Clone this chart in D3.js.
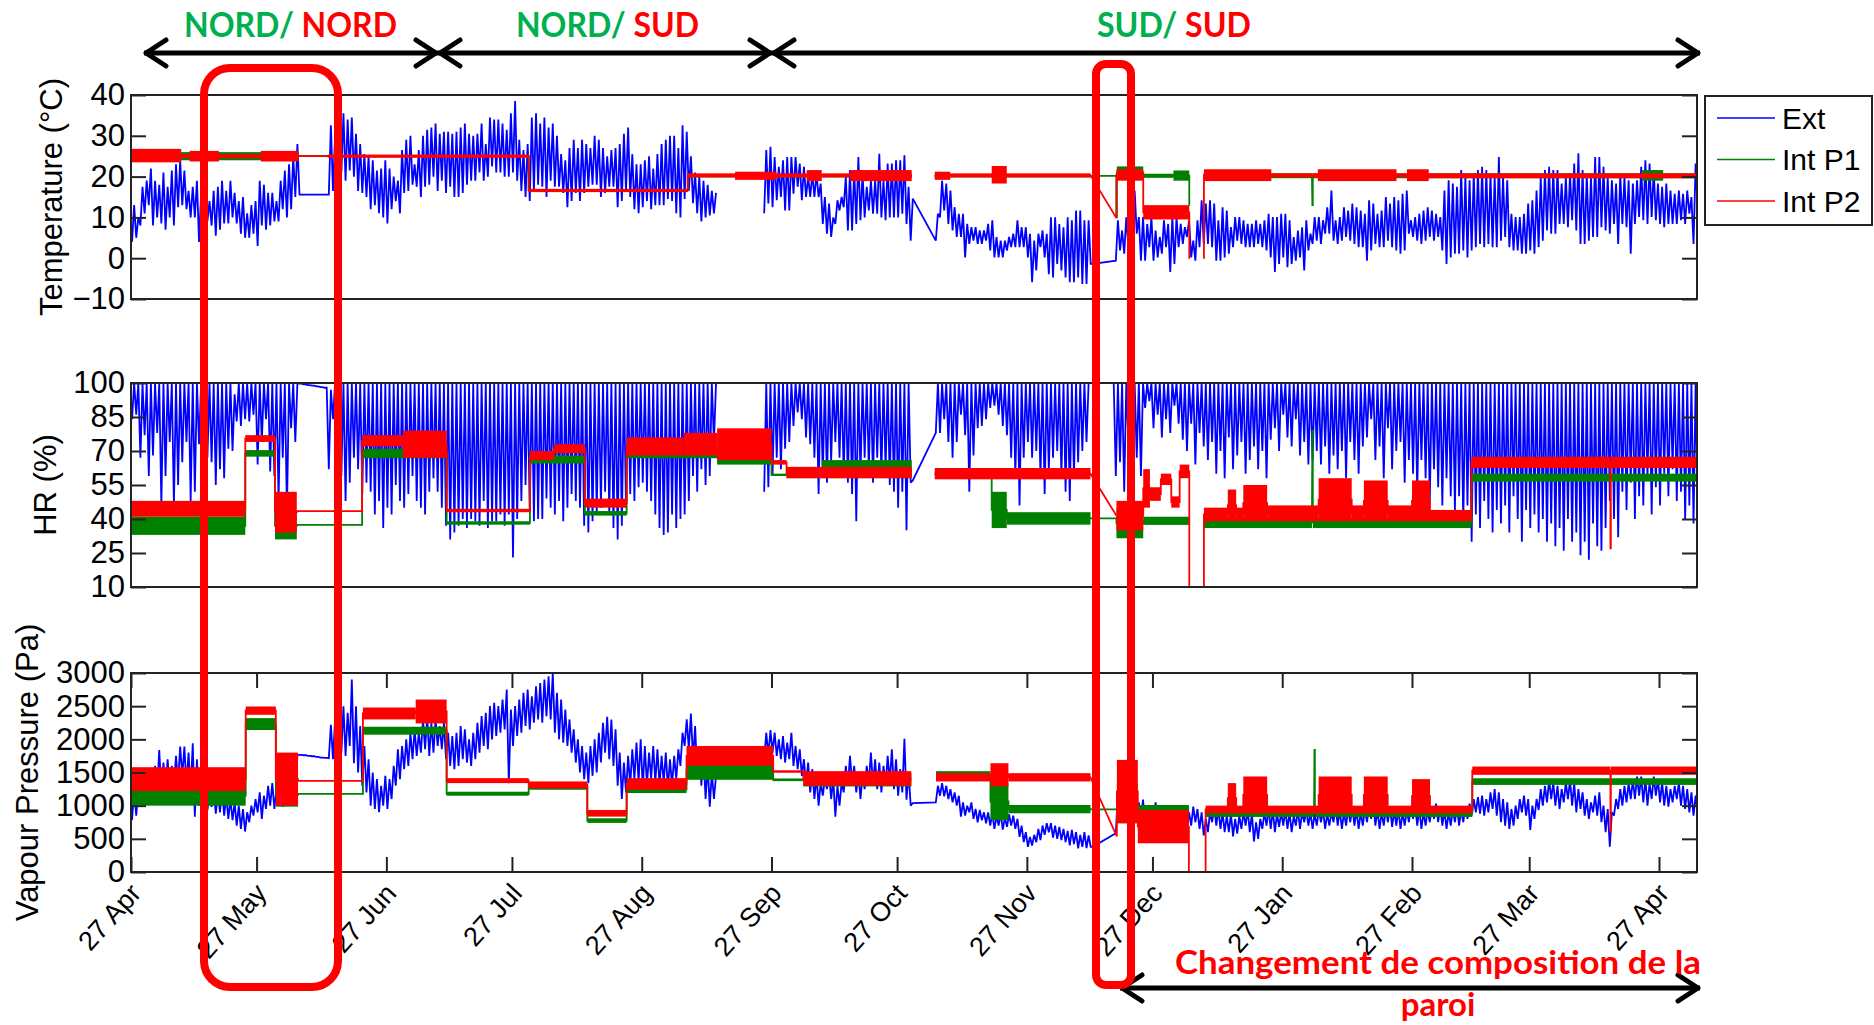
<!DOCTYPE html>
<html><head><meta charset="utf-8">
<script src="https://cdn.jsdelivr.net/npm/d3@7"></script>
<style>body{margin:0;background:#fff}svg{display:block}</style>
</head><body>
<svg id="c" width="1874" height="1025"></svg>
<script>
// N = no data, line broken ; _ = no sample, line drawn straight across
const N = NaN, _ = null;

// Day index 0 = 27 Apr 2013 (hourly data shown as daily low / high)
const tempExtLo = [
4,5,8,11,13,8,10,8.5,7,10, 8,12.5,13,12,10,10,4,8.5,9,8, 5.5,7,8.5,8.5,10,8.5,6,5,5,6, 3,8,7,8,9,9,12,10,12,15,
15.6,15.6,15.6,15.6,15.6,15.6,15.6,15.6,16.5,17.5, 21,19,21.5,20,16.5,16,15,12,13,11, 10,8.5,12,14,11,16,16.5,18,17.5,15,
17.5,18,20,16.5,19,16,17.5,15,15,16, 18,19,19,21,19,20,22.5,21,21,20, 20,21,19,16.5,15,14,16.5,18,17.5,15,
19,17.5,17.5,16,12.5,14,16,14,16,17.5, 18,18,15,16,17.5,17.5,12.5,14,16.5,15, 12,11,12.5,14,12,13,13,13,14.5,14,
11,10,14.5,16.5,13.5,11,9,10,10.5,11, N,N,N,N,N,N,N,N,N,N, N,11,13.4,12.5,14.2,15,11.7,11.7,15.8,17.5,
14.2,15,15,15,15,8.4,6,5.2,8.4,11.7, 12.5,6.8,6.8,8.4,9.3,10,11.7,10.9,10.9,10, 9.3,10,10,10,10.9,8.4,4.3,_,_,_,
_,_,4.3,10,11.7,8.4,6.8,5.2,5.2,0.2, 3.5,4.3,3.5,3.5,4.3,1.9,0.2,0.2,0.2,1.9, 2.7,2.7,2.7,2.7,0.2,-5.9,-3,2.7,0.2,-3.9,
-4.7,-1.4,-3,-4.7,-5.9,-5.9,-4.7,-6.3,-6.3,-1.4, _,_,_,_,_,-0.6,1.9,1.1,2.7,3.5, 6,-0.6,-0.6,2.7,-0.6,0.2,1.1,2.7,-3.4,-1.4,
2.7,3.5,5.2,0.2,-0.6,2.7,3.5,3.5,2.7,-0.6, -0.6,0.2,1.1,2.7,4.3,3.5,2.7,2.7,2.7,3.5, 2.7,1.9,0.2,-3.4,-1.4,0.2,-2.2,-1.4,-0.6,0.2,
-3,1.9,3.5,4.3,3.5,6,6,4.3,3.5,4.3, 5.2,4.3,3.5,2.7,2.7,-0.6,1.9,3.5,2.7,2.7, 4.3,2.7,1.9,1.1,1.9,6,5.2,4.3,3.5,4.3,
5.2,4.3,5.2,1.9,-1.4,0.2,1.1,1.1,1.9,0.2, 1.9,2.7,3.5,2.7,3.5,2.7,2.7,4.3,5.2,2.7, 1.9,1.9,1.1,1.1,1.9,1.1,2.7,4.3,6.8,6,
6,8.4,8.4,7.6,9.3,6.8,3.5,3.5,4.3,5.2, 5.2,7.6,6.8,6,8.4,3.5,8.4,7.6,1.1,8.4, 10.1,9.3,8.4,10.1,9.3,8.4,7.6,8.4,8.4,8.4,
9.3,8.4,10.9,3.5,12];
const tempExtHi = [
13,10,17.5,19,22,19,18,21,17.5,21.5, 23,24,21.5,16.5,17.5,19,16,14,14,16.5, 17.5,19,16.5,19,16,14,15,11,13,14, 19,18,16,16,14,19,21.5,23,25,28,
15.6,15.6,15.6,15.6,15.6,15.6,15.6,32.6,30,32, 35.5,34,34.5,30.5,28,25.5,25,24,21.5,22, 24,22,20,19,26.5,29,30,23,26.5,30,
31.5,32,33,30.5,31,31,30.5,31,32,33, 30.5,30,30.5,33,28,34.5,34,34,33,31.5, 35.5,38.5,29,26.5,28,34.5,35.5,33,34.5,32,
33,30,25.5,24,27,29,27,29,28,27, 30,29,27,25,26.5,27,28,30.5,32,25.5, 23,23,24,25,22,25.5,28,29,30,30,
27,32.6,31,25,21,20,19,18,16.5,16, N,N,N,N,N,N,N,N,N,N, N,26.5,27.3,24.8,22.4,24,24.8,24.8,24.8,23.2,
22.4,20,20.7,20.7,18.3,15,13.4,10,14.2,15, 20,21.6,21.6,24.8,20.7,17.5,19,19,25.6,19, 23.2,23.2,24,24,25.2,17.5,14.6,_,_,_,
_,_,10.9,19,18.3,16.6,12.5,10.9,10.9,8.4, 7.6,7.6,6.8,6.8,8.4,9.3,5.2,4.3,4.3,5.2, 6,9.3,7.6,7.6,6,4.3,6,6.8,6,10,
10,8.4,7.6,10,9.3,11.7,11.7,9.3,9.3,-1.4, _,_,_,_,_,9.3,6.8,10,8.4,16.6, 10.1,10.1,8.4,10.1,6.8,5.2,9.3,8.4,10.1,10.1,
8.4,7.6,9.3,4.3,9.3,14.2,13.4,14.2,13.4,9.3, 12.5,11.7,7.6,10.1,10.1,9.3,8.4,8.4,9.3,8.4, 9.3,10.9,10.1,10.1,10.9,10.9,9.3,5.2,6.8,7.6,
9.3,6,10.1,10.1,9.3,12.5,16.6,9.3,10.1,12.5, 11.7,13.4,12.5,11.7,10.9,14.2,13.4,10.9,11.7,15, 13.4,15,14.2,15.8,16.6,9.3,10.1,10.9,11.7,12.5,
11.7,10.9,10.1,16.6,19.1,18.3,17.5,21.6,19.9,19.1, 20.7,21.6,22.4,21.6,20.7,19.9,24.8,19.9,19.1,10.9, 10.1,10.1,10.9,13.4,14.2,16.6,19.9,21.6,22.4,21.6,
21.6,18.3,19.9,20.7,23.2,25.7,21.6,20.7,19.9,24.8, 24.8,22.4,19.9,19.1,18.3,20.7,19.9,19.1,18.3,19.1, 22.4,24,23.2,21.6,18.3,17.5,18.3,16.6,15.8,16.6,
15.8,16.6,15,23.2,24];

const hrExtLo = [
84,86,67,77,59,68,78,46,59,74, 46,55,65,74,48,52,73,59,67,65, 55,62,58,71,70,83,81,84,83,86, 64,74,84,61,59,48,67,43,80,74,
99.7,99.4,99.1,98.8,98.5,98.2,97.9,62,84,45, 59,48,56,67,62,51,56,52,42,48, 36,45,42,55,48,45,51,59,48,45,
42,52,58,52,45,37,31,34,37,40, 36,40,39,37,48,36,39,39,42,37, 42,23,40,48,55,43,39,40,40,49,
45,42,48,39,45,51,48,45,37,34, 39,42,45,52,42,36,31,37,45,51, 48,54,56,52,48,42,36,33,34,42,
36,40,42,48,59,52,62,55,59,74, N,N,N,N,N,N,N,N,N,N, N,52,54,59,67,62,71,74,81,87,
84,76,73,67,51,59,56,65,74,67, 59,56,51,39,59,67,62,56,67,59, 62,55,52,45,52,35,56,_,_,_,
_,_,78,78,84,74,67,74,86,77, 52,68,80,81,84,89,90,86,81,77, 67,59,46,67,74,67,70,59,51,61,
67,70,59,52,48,59,65,70,74,100, 100,100,100,100,100,59,65,52,74,81, 67,59,89,92,80,86,76,84,78,90,
82,75,70,82,64,78,72,66,74,60, 70,58,76,62,68,74,60,66,72,62, 70,58,75,80,70,86,76,72,84,68,
74,64,66,70,64,72,60,68,62,70, 58,74,66,60,72,76,84,66,72,58, 80,62,70,74,56,66,60,52,66,58,
48,62,54,46,58,50,44,50,38,46, 30,42,36,48,40,34,44,38,46,34, 50,40,30,44,36,42,34,40,30,38,
28,36,26,40,30,34,24,30,22,38, 28,26,36,48,40,32,52,44,56,40, 50,46,58,42,54,46,60,50,62,48,
52,40,46,38,42];
const hrExtHi = [
100,100,100,100,100,100,100,100,100,100, 100,100,100,100,100,100,100,100,100,100, 100,100,100,100,95,100,100,100,100,100, 100,100,100,100,100,100,100,100,100,100,
99.7,99.4,99.1,98.8,98.5,98.2,97.9,97,100,100, 100,100,100,100,100,100,100,100,100,100, 100,100,100,100,100,100,100,100,100,100,
100,100,100,100,100,100,100,100,100,100, 100,100,100,100,100,100,100,100,100,100, 100,100,100,100,100,100,100,100,100,100,
100,100,100,100,100,100,100,100,100,100, 100,100,100,100,100,100,100,100,100,100, 100,100,100,100,100,100,100,100,100,100,
100,100,100,100,100,100,100,100,100,100, N,N,N,N,N,N,N,N,N,N, N,100,100,100,100,100,100,100,100,100,
100,100,100,100,100,100,100,100,100,100, 100,100,100,100,100,100,100,100,100,100, 100,100,100,100,100,100,57,_,_,_,
_,_,100,100,100,100,100,100,100,100, 100,100,100,100,100,100,100,100,100,100, 100,100,100,100,100,100,100,100,100,100,
100,100,100,100,100,100,100,100,100,100, 100,100,100,100,100,100,100,100,100,100, 100,100,100,100,100,100,100,100,100,100,
100,100,100,100,100,100,100,100,100,100, 100,100,100,100,100,100,100,100,100,100, 100,100,100,100,100,100,100,100,100,100,
100,100,100,100,100,100,100,100,100,100, 100,100,100,100,100,100,100,100,100,100, 100,100,100,100,100,100,100,100,100,100,
100,100,100,100,100,100,100,100,100,100, 100,100,100,100,100,100,100,100,100,100, 100,100,100,100,100,100,100,100,100,100,
100,100,100,100,100,100,100,100,100,100, 100,100,100,100,100,100,100,100,100,100, 100,100,100,100,100,100,100,100,100,100,
100,100,100,100,100];

const vpExtLo = [
780,850,1050,1140,1100,1150,1240,1200,1250,1240, 1300,1350,1440,1300,1200,835,1000,950,930,980, 880,900,850,800,780,700,650,610,750,850, 900,800,950,1000,950,1000,980,1050,1000,1100,
1765,1760,1750,1745,1735,1725,1720,1715,1700,1900, 1800,1750,1900,1640,1500,1300,1200,1000,950,900, 1000,950,1100,1300,1400,1550,1600,1700,1750,1800,
1850,1750,1800,1900,1850,1700,1600,1550,1600,1700, 1650,1600,1700,1800,1900,1850,2000,2050,2100,2150, 1340,1900,2050,2100,2200,2150,2250,2300,2250,2350,
2300,2100,2000,1950,1900,1800,1650,1500,1400,1340, 1450,1500,1650,1800,1700,1600,1300,1100,1200,1300, 1400,1350,1250,1300,1400,1350,1300,1350,1250,1300,
1400,1600,1900,1850,1700,1500,1300,1100,985,1100, N,N,N,N,N,N,N,N,N,N, N,1700,1750,1800,1750,1700,1650,1700,1600,1550,
1450,1300,1200,1100,1000,1150,1250,1100,835,1000, 1200,1300,1350,1200,1100,1250,1350,1300,1250,1200, 1300,1350,1250,1150,1200,1090,1000,_,_,_,
_,_,1050,1150,1140,1100,1050,1000,835,850, 900,800,750,780,735,700,650,700,640,680, 700,650,530,450,380,400,450,480,560,600,
520,500,480,450,400,420,357,380,360,380, _,_,_,_,_,585,800,900,850,685, 750,800,700,650,750,800,700,650,600,585,
650,700,650,700,750,650,550,600,750,700, 650,600,600,535,580,650,700,600,460,500, 650,700,650,600,680,700,650,600,700,650,
750,700,650,700,750,650,700,750,700,650, 700,750,700,650,700,750,800,700,650,700, 750,680,700,650,700,750,800,700,650,700,
750,800,750,700,650,700,750,700,750,800, 850,900,880,850,900,950,850,750,700,650, 700,800,900,850,635,800,935,1000,1050,1100,
1000,950,1050,1100,1000,900,950,850,800,900, 850,750,600,380,850,950,1000,1050,1100,1100, 1150,1050,1000,1100,1150,1050,1000,985,1050,1100,
1000,950,900,850,900];
const vpExtHi = [
1240,1300,1500,1440,1400,1600,1840,1650,1700,1600, 1750,1890,1890,1800,1940,1700,1440,1300,1200,1250, 1200,1250,1150,1100,1050,1000,950,900,1000,1100, 1200,1150,1300,1340,1250,1300,1200,1350,1300,1765,
1765,1760,1750,1745,1735,1725,1720,2220,2300,2600, 2500,2400,2900,2500,2200,1900,1700,1500,1400,1300, 1450,1400,1600,1850,1900,2000,2100,2150,2100,2300,
2350,2250,2300,2200,2250,2100,2050,2100,2200,2150, 2000,2100,2250,2350,2400,2500,2550,2500,2600,2750, 2450,2500,2600,2700,2750,2650,2800,2850,2900,2950,
3000,2700,2600,2450,2300,2150,2000,1900,1800,1900, 2000,2100,2250,2340,2300,2150,1800,1650,1750,1850, 1950,2000,1900,1800,1900,1850,1750,1800,1700,1750,
1850,2100,2300,2390,2200,1900,1800,1600,1500,1450, N,N,N,N,N,N,N,N,N,N, N,2100,2140,2100,2000,2050,1950,2100,1900,1850,
1700,1650,1550,1450,1350,1400,1500,1400,1300,1350, 1600,1750,1600,1500,1450,1600,1800,1700,1650,1600, 1750,1850,1700,1550,2010,1500,1040,_,_,_,
_,_,1300,1340,1300,1250,1200,1150,1050,1000, 1050,950,935,900,900,880,850,885,820,870, 850,800,700,600,530,560,650,700,735,735,
700,680,650,620,635,600,560,600,550,380, _,_,_,_,_,1190,1100,1190,1100,1000, 1050,1090,1000,950,1050,1000,950,900,850,800,
900,950,900,985,950,900,800,900,985,950, 900,850,880,800,850,900,935,880,750,800, 900,950,935,880,900,935,900,850,930,900,
935,900,880,935,930,880,900,985,930,900, 950,985,935,900,950,985,1030,935,900,950, 985,930,950,900,935,985,1000,950,900,935,
985,1030,985,935,900,950,985,935,985,1030, 1100,1130,1150,1100,1200,1250,1200,1100,1050,950, 1000,1100,1150,1100,1000,1100,1250,1300,1390,1350,
1300,1250,1350,1390,1340,1250,1200,1100,1050,1150, 1200,1000,950,900,1100,1250,1300,1340,1390,1440, 1440,1400,1340,1440,1400,1350,1300,1250,1300,1350,
1300,1250,1200,1150,1100];

// Interior sensors: [fromDay, toDay, low, high] ; null = break in the record
const p1Temp = [[0,40,24,26],[40,95,24.8,25.2],[95,133,16.3,16.9],[133,186.5,19.8,20.6],null,
 [192,229.2,19.8,20.6],[229.2,235.4,20.2,20.2],[235.4,235.5,10,10],[235.5,241.8,19.5,22.5],[241.8,249,19.7,20.7],[249,252.8,19,21.5],[252.8,252.9,13,13],null,
 [256.2,282.1,19.6,20.8],[282.2,282.3,13,13],[282.3,361,19.6,20.8],[361,366,19,21.6],[366,374.2,19.6,20.8]];
const p2Temp = [[0,12,23.5,26.8],[12,14,24.5,25.5],[14,21,23.7,26.3],[21,31,24.5,25.5],[31,40,23.7,26.3],
 [40,47,25,25],[47,95,24.6,25.4],[95,133,16.2,17],
 [133,144.3,19.8,20.8],[144.3,154.2,19.2,21.2],[154.2,161.4,19.8,20.8],[161.4,165,18.9,21.6],[165,171.8,19.8,20.8],[171.8,186.5,18.9,21.6],null,
 [192,195.7,19.2,21.2],[195.7,205.6,19.8,20.8],[205.6,209.2,18.3,22.6],[209.2,229.2,19.8,20.8],
 [235.3,235.4,10,10],[235.4,241.8,19,21.8],[241.8,252.8,9.5,13],[252.8,252.9,0,0],null,
 [256.2,256.3,0,0],[256.3,272.4,18.9,21.8],[272.4,283.5,19.8,20.8],[283.5,302.3,18.9,21.8],[302.3,304.8,19.8,20.8],[304.8,310,18.9,21.8],[310,374.2,19.6,20.8]];

const p1HR = [[0,27.3,33,41],[27.3,34.4,67.5,70.4],[34.4,39.6,31,43],[39.6,55.2,37.4,37.4],
 [55.2,75.4,66.8,71],[75.4,95.3,37.5,39],[95.3,108.4,64.5,68],[108.4,118.4,41.5,43.5],
 [118.4,140,66.8,69.7],[140,153,64,71],[153,156.6,59,60],[156.6,165,58,62],[165,186.5,58,66],null,
 [192,205.6,59,61],[205.6,209.2,36,52],[209.2,229.2,37.5,43],[229.2,235.4,40.3,40.3],[235.4,241.8,31.5,44.7],[241.8,252.8,37.4,41],null,
 [256.2,282.1,36,41],[282.2,282.3,79,79],[282.3,320.2,36,41],[320.2,374.2,56.5,60]];
const p2HR = [[0,27.3,41,48],[27.3,34.4,74,77],[34.4,39.6,34,52],[39.6,55.2,43.5,43.5],
 [55.2,65,72,77],[65,75.4,67,79],[75.4,95.3,43,44.5],[95.3,101,66,70],[101,108.4,69,73],[108.4,118.4,45,49],
 [118.4,132,68,76],[132,140,68,78],[140,153,66,80],[153,156.6,64,66],[156.6,186.5,58,63],null,
 [192,229.2,57.5,62.5],[235.4,241.8,35,48],[241.8,243.4,45,62],[243.4,246,48,54],[246,248.5,55,60],[248.5,250.5,45,50],[250.5,252.8,58,64],[252.8,252.9,10,10],null,
 [256.2,256.3,10,10],[256.3,262,39,45],[262,264,39,53],[264,265.7,39,45],[265.7,271.4,39,55],[271.4,283.7,39,46],[283.7,291.6,39,58],
 [291.6,294.5,39,46],[294.5,300.2,39,57],[300.2,306,39,46],[306,310.3,39,57],[310.3,320.2,39,44],
 [320.2,353.4,62.5,67.5],[353.4,353.5,27,27],[353.5,374.2,62.5,67.5]];

const p1VP = [[0,27.4,1000,1300],[27.4,34.6,2140,2320],[34.6,39.9,985,1340],[39.9,55.4,1177,1177],
 [55.4,75.4,2070,2190],[75.4,95,1150,1210],[95,109,1240,1340],[109,118.4,740,810],
 [118.4,132.7,1190,1300],[132.7,153.4,1390,1690],[153.4,160.6,1370,1410],[160.6,186.4,1290,1490],null,
 [192.3,205.3,1400,1520],[205.3,209.6,785,1340],[209.6,229.2,885,1010],[229.2,235.5,945,945],[235.5,240.5,735,1340],[240.5,252.7,885,1010],null,
 [256.6,282.6,830,950],[282.7,282.8,1840,1840],[282.8,320.4,830,950],[320.4,374.2,1313,1413]];
const p2VP = [[0,27.4,1220,1580],[27.4,34.6,2370,2495],[34.6,39.9,1000,1800],[39.9,55.4,1373,1373],
 [55.4,68,2300,2480],[68,75.4,2240,2600],[75.4,95,1340,1415],[95,109,1260,1365],[109,118.4,835,935],
 [118.4,132.7,1240,1415],[132.7,153.4,1600,1900],[153.4,160.6,1500,1530],[160.6,186.4,1300,1520],null,
 [192.3,205.3,1365,1490],[205.3,209.6,1290,1640],[209.6,229.2,1365,1490],
 [235.4,235.5,550,550],[235.5,240.5,735,1690],[240.5,252.7,433,935],[252.7,252.8,0,0],null,
 [256.6,256.7,0,0],[256.7,262,885,1000],[262,264,885,1340],[264,265.7,885,1000],[265.7,271.4,885,1440],[271.4,283.7,885,1000],
 [283.7,291.6,885,1440],[291.6,294.5,885,1000],[294.5,300.2,885,1440],[300.2,306,885,1000],[306,310.3,885,1400],[310.3,320.4,885,1000],
 [320.4,353.4,1465,1590],[353.4,353.5,610,610],[353.5,374.2,1465,1590]];

const tempTicks = [-10,0,10,20,30,40];
const hrTicks = [10,25,40,55,70,85,100];
const vpTicks = [0,500,1000,1500,2000,2500,3000];
const monthTicks = ["2013-04-27","2013-05-27","2013-06-27","2013-07-27","2013-08-27","2013-09-27","2013-10-27",
 "2013-11-27","2013-12-27","2014-01-27","2014-02-27","2014-03-27","2014-04-27"];
const seriesNames = ["Ext","Int P1","Int P2"];
const periodLabels = [["NORD/"," NORD"],["NORD/"," SUD"],["SUD/"," SUD"]];
const noteText = ["Changement de composition de la","paroi"];

// ---------- drawing ----------
const COL = {ext:"#0000ff", p1:"#008000", p2:"#ff0000"};
const svg = d3.select("#c");
const t0 = Date.UTC(2013,3,27), DAY = 864e5;
const x = d3.scaleUtc().domain([new Date(t0), new Date(t0 + 374.08*DAY)]).range([131,1697]);
const xd = d => x(new Date(t0 + d*DAY));
const FONT = "'Liberation Sans', Arial, sans-serif";

const panels = [
 {top:95, bottom:299, domain:[-10,40], ticks:tempTicks, title:"Temperature (°C)", tx:51, ext:[tempExtLo,tempExtHi], p1:p1Temp, p2:p2Temp},
 {top:383, bottom:587, domain:[10,100], ticks:hrTicks, title:"HR (%)", tx:45, ext:[hrExtLo,hrExtHi], p1:p1HR, p2:p2HR},
 {top:673, bottom:872, domain:[0,3000], ticks:vpTicks, title:"Vapour Pressure (Pa)", tx:27, ext:[vpExtLo,vpExtHi], p1:p1VP, p2:p2VP, xaxis:true}
];

const defs = svg.append("defs");

panels.forEach((p,i) => {
  const y = d3.scaleLinear().domain(p.domain).range([p.bottom, p.top]);
  defs.append("clipPath").attr("id","clip"+i).append("rect")
    .attr("x",131).attr("y",p.top).attr("width",1697-131).attr("height",p.bottom-p.top);
  const g = svg.append("g").attr("clip-path",`url(#clip${i})`);
  const line = d3.line().defined(q => !isNaN(q.v)).x(q => xd(q.d)).y(q => y(q.v));

  // exterior: daily low / high
  const pts = [];
  p.ext[0].forEach((lo,k) => {
    if (lo === null) return;
    pts.push({d:k+0.25, v:lo}, {d:k+0.75, v:p.ext[1][k]});
  });
  g.append("path").attr("d", line(pts)).attr("fill","none")
    .attr("stroke",COL.ext).attr("stroke-width",1.8).attr("stroke-linejoin","miter").attr("stroke-miterlimit",2);

  // interior sensors (noise band + level line)
  [[p.p1,COL.p1],[p.p2,COL.p2]].forEach(([segs,c]) => {
    segs.forEach(s => {
      if (!s || s[3] - s[2] <= 0) return;
      g.append("rect").attr("x",xd(s[0])).attr("width",Math.max(0.6, xd(s[1])-xd(s[0])))
        .attr("y",y(s[3])).attr("height",y(s[2])-y(s[3])).attr("fill",c);
    });
    const cp = [];
    segs.forEach(s => {
      if (!s) { cp.push({d:NaN, v:NaN}); return; }
      const m = (s[2]+s[3])/2;
      cp.push({d:s[0], v:m}, {d:s[1], v:m});
    });
    g.append("path").attr("d", line(cp)).attr("fill","none").attr("stroke",c).attr("stroke-width",1.8);
  });

  // frame and axes
  svg.append("rect").attr("x",131).attr("y",p.top).attr("width",1697-131).attr("height",p.bottom-p.top)
    .attr("fill","none").attr("stroke","#222").attr("stroke-width",2);
  const ya = svg.append("g").attr("transform","translate(131,0)")
    .call(d3.axisLeft(y).tickValues(p.ticks).tickSize(-15).tickPadding(6).tickFormat(d3.format("d")));
  ya.select(".domain").remove();
  ya.selectAll("line").attr("stroke","#222").attr("stroke-width",2);
  ya.selectAll("text").attr("font-family",FONT).attr("font-size",31).attr("fill","#000");
  const yr = svg.append("g").attr("transform","translate(1697,0)")
    .call(d3.axisRight(y).tickValues(p.ticks).tickSize(-15).tickFormat(""));
  yr.select(".domain").remove();
  yr.selectAll("line").attr("stroke","#222").attr("stroke-width",2);

  svg.append("text").attr("transform",`translate(${p.tx},${(p.top+p.bottom)/2}) rotate(-90)`)
    .attr("text-anchor","middle").attr("dy","0.35em").attr("font-family",FONT).attr("font-size",31)
    .text(p.title);

  if (p.xaxis) {
    const tv = monthTicks.map(s => new Date(s+"T00:00:00Z"));
    const xb = svg.append("g").attr("transform",`translate(0,${p.bottom})`)
      .call(d3.axisBottom(x).tickValues(tv).tickSize(-15).tickFormat(d3.utcFormat("%d %b")));
    xb.select(".domain").remove();
    xb.selectAll("line").attr("stroke","#222").attr("stroke-width",2);
    xb.selectAll("text").attr("font-family",FONT).attr("font-size",27).attr("fill","#000")
      .attr("text-anchor","end").attr("x",0).attr("y",0).attr("dy","0.35em")
      .attr("transform","translate(4,16) rotate(-48)");
    const xt = svg.append("g").attr("transform",`translate(0,${p.top})`)
      .call(d3.axisTop(x).tickValues(tv).tickSize(-15).tickFormat(""));
    xt.select(".domain").remove();
    xt.selectAll("line").attr("stroke","#222").attr("stroke-width",2);
  }
});

// legend
const lg = svg.append("g");
lg.append("rect").attr("x",1705).attr("y",96).attr("width",167).attr("height",129)
  .attr("fill","#fff").attr("stroke","#222").attr("stroke-width",2);
[COL.ext,COL.p1,COL.p2].forEach((c,i) => {
  const yy = 118 + i*41.5;
  lg.append("line").attr("x1",1717).attr("x2",1775).attr("y1",yy).attr("y2",yy).attr("stroke",c).attr("stroke-width",1.6);
  lg.append("text").attr("x",1782).attr("y",yy).attr("dy","0.35em").attr("font-family",FONT)
    .attr("font-size",30).text(seriesNames[i]);
});

// annotations
const ann = svg.append("g");
const AF = "Lato, 'Open Sans', sans-serif";
const labelPos = [[184,213],[516,183],[1097,154]];
periodLabels.forEach((L,i) => {
  const t = ann.append("text").attr("x",labelPos[i][0]).attr("y",37).attr("font-family",AF)
    .attr("font-weight",700).attr("font-size",34)
    .attr("textLength",labelPos[i][1]).attr("lengthAdjust","spacingAndGlyphs");
  t.append("tspan").attr("fill","#00b050").text(L[0]);
  t.append("tspan").attr("fill","#ff0000").text(L[1]);
});
function arrow(x1,x2,yy){
  ann.append("line").attr("x1",x1).attr("x2",x2).attr("y1",yy).attr("y2",yy)
    .attr("stroke","#000").attr("stroke-width",5);
  const hp = `M${x1+22},${yy-13} L${x1+2},${yy} L${x1+22},${yy+13} M${x2-22},${yy-13} L${x2-2},${yy} L${x2-22},${yy+13}`;
  ann.append("path").attr("d",hp).attr("fill","none").attr("stroke","#000").attr("stroke-width",5)
    .attr("stroke-linecap","round").attr("stroke-linejoin","round");
}
arrow(144,438,53); arrow(438,772,53); arrow(772,1700,53);
arrow(1120,1700,988);
ann.append("rect").attr("x",204).attr("y",68).attr("width",134).attr("height",919).attr("rx",26)
  .attr("fill","none").attr("stroke","#ff0000").attr("stroke-width",8);
ann.append("rect").attr("x",1096).attr("y",64).attr("width",35).attr("height",921).attr("rx",10)
  .attr("fill","none").attr("stroke","#ff0000").attr("stroke-width",8);
ann.append("text").attr("x",1175).attr("y",974).attr("font-family",AF).attr("font-weight",700)
  .attr("font-size",33).attr("fill","#ff0000").attr("textLength",526).attr("lengthAdjust","spacingAndGlyphs")
  .text(noteText[0]);
ann.append("text").attr("x",1438).attr("y",1016).attr("text-anchor","middle").attr("font-family",AF)
  .attr("font-weight",700).attr("font-size",33).attr("fill","#ff0000").text(noteText[1]);
</script>
</body></html>
